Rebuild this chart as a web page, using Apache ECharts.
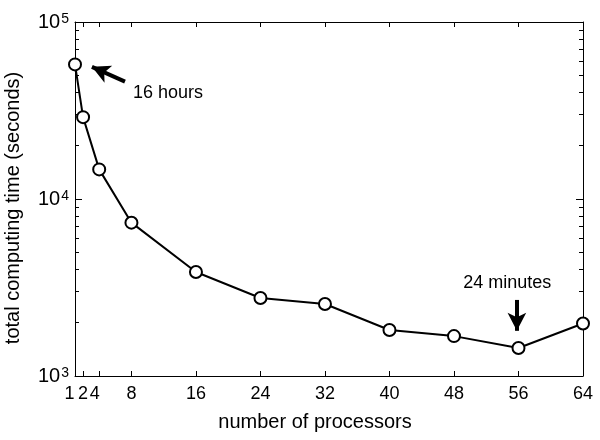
<!DOCTYPE html>
<html>
<head>
<meta charset="utf-8">
<script src="https://cdn.jsdelivr.net/npm/echarts@6/dist/echarts.min.js"></script>
<style>html,body{margin:0;padding:0;background:#fff}#c{width:600px;height:440px}</style>
</head>
<body>
<div id="c"></div>
<script>
const processors = [1, 2, 4, 8, 16, 24, 32, 40, 48, 56, 64];
const timeSeconds = [57600, 29000, 14700, 7350, 3870, 2760, 2550, 1820, 1680, 1440, 1980];
const xTickValues = [1, 2, 4, 8, 16, 24, 32, 40, 48, 56, 64];
const xLabelOne = [1];
const xLabelFour = [4];
const xOtherLabels = [2, 8, 16, 24, 32, 40, 48, 56, 64];
const yMajorTicks = [1000, 10000, 100000];
const yMinorTicks = [2000, 3000, 4000, 5000, 6000, 7000, 8000, 9000, 20000, 30000, 40000, 50000, 60000, 70000, 80000, 90000];
const annot16hText = '16 hours';
const annot24mText = '24 minutes';

const FONT = 'Liberation Sans, Arial, Helvetica, sans-serif';
const chart = echarts.init(document.getElementById('c'), null, {renderer: 'canvas'});

function yLabel(v) {
  const e = Math.round(Math.log10(v));
  return '{b|10}{s|' + e + '}';
}
const supRich = {
  b: {fontSize: 20, fontFamily: FONT, color: '#000', lineHeight: 20, padding: [2, 0, 0, 0], verticalAlign: 'bottom'},
  s: {fontSize: 14, fontFamily: FONT, color: '#000', lineHeight: 4, verticalAlign: 'top', padding: [0, 0, 0, 1]}
};
const axisLineStyle = {show: true, onZero: false, lineStyle: {color: '#000', width: 1}};
function xLabelStyle(values, pad) {
  return {show: true, customValues: values, fontSize: 18, fontFamily: FONT, color: '#000', margin: 9,
    hideOverlap: false, showMinLabel: true, showMaxLabel: true, padding: pad};
}

const baseX = {type: 'value', min: 1, max: 64, gridIndex: 0, splitLine: {show: false}, axisLine: axisLineStyle};
const baseY = {type: 'log', logBase: 10, min: 1000, max: 100000, gridIndex: 0, splitLine: {show: false}, axisLine: axisLineStyle};

const option = {
  animation: false,
  backgroundColor: '#fff',
  grid: {left: 75, right: 17, top: 22, bottom: 64, containLabel: false, outerBoundsMode: 'none'},
  xAxis: [
    Object.assign({}, baseX, {
      position: 'bottom',
      name: 'number of processors', nameLocation: 'middle', nameGap: 36,
      nameTextStyle: {fontSize: 20, fontFamily: FONT, color: '#000', padding: [0, 28, 0, 0]},
      axisTick: {show: true, inside: true, length: 5, customValues: xTickValues, lineStyle: {color: '#000'}},
      axisLabel: xLabelStyle(xOtherLabels, [0, 0, 0, 0])
    }),
    Object.assign({}, baseX, {
      position: 'top',
      axisTick: {show: true, inside: true, length: 5, customValues: xTickValues, lineStyle: {color: '#000'}},
      axisLabel: {show: false}
    }),
    Object.assign({}, baseX, {
      position: 'bottom',
      axisLine: {show: false},
      axisTick: {show: false},
      axisLabel: xLabelStyle(xLabelOne, [0, 11, 0, 0])
    }),
    Object.assign({}, baseX, {
      position: 'bottom',
      axisLine: {show: false},
      axisTick: {show: false},
      axisLabel: xLabelStyle(xLabelFour, [0, 9, 0, 0])
    })
  ],
  yAxis: [
    Object.assign({}, baseY, {
      position: 'left',
      name: 'total computing time (seconds)', nameLocation: 'middle', nameGap: 52, nameRotate: 90,
      nameTextStyle: {fontSize: 20, fontFamily: FONT, color: '#000', padding: [0, 18, 0, 0]},
      axisTick: {show: true, inside: true, length: 7, customValues: yMajorTicks, lineStyle: {color: '#000'}},
      axisLabel: {show: true, customValues: yMajorTicks, formatter: yLabel, rich: supRich, margin: 6, showMinLabel: true, showMaxLabel: true}
    }),
    Object.assign({}, baseY, {
      position: 'right',
      axisTick: {show: true, inside: true, length: 7, customValues: yMajorTicks, lineStyle: {color: '#000'}},
      axisLabel: {show: false}
    }),
    Object.assign({}, baseY, {
      position: 'left',
      axisLine: {show: false},
      axisTick: {show: true, inside: true, length: 4, customValues: yMinorTicks, lineStyle: {color: '#000'}},
      axisLabel: {show: false}
    }),
    Object.assign({}, baseY, {
      position: 'right',
      axisLine: {show: false},
      axisTick: {show: true, inside: true, length: 4, customValues: yMinorTicks, lineStyle: {color: '#000'}},
      axisLabel: {show: false}
    })
  ],
  series: [
    {
      type: 'line',
      xAxisIndex: 0,
      yAxisIndex: 0,
      data: processors.map((p, i) => [p, timeSeconds[i]]),
      symbol: 'circle',
      symbolSize: 12,
      showAllSymbol: true,
      lineStyle: {color: '#000', width: 2},
      itemStyle: {color: '#fff', borderColor: '#000', borderWidth: 2},
      z: 3,
      markLine: {
        silent: true,
        animation: false,
        label: {show: false},
        lineStyle: {color: '#000', width: 4, type: 'solid'},
        symbolSize: [14, 18],
        data: [
          [{coord: [7.2, 46000], symbol: 'none'}, {coord: [3.1, 55800], symbol: 'arrow'}],
          [{coord: [55.8, 2690], symbol: 'none'}, {coord: [55.8, 1800], symbol: 'arrow'}]
        ]
      },
      markPoint: {
        silent: true,
        animation: false,
        symbol: 'circle',
        symbolSize: 0,
        data: [
          {coord: [8.2, 39600], label: {show: true, formatter: annot16hText, position: 'right', distance: 0, fontSize: 18, fontFamily: FONT, color: '#000'}},
          {coord: [54.6, 3350], label: {show: true, formatter: annot24mText, position: 'inside', fontSize: 18, fontFamily: FONT, color: '#000'}}
        ]
      }
    }
  ]
};
chart.setOption(option);
</script>
</body>
</html>
